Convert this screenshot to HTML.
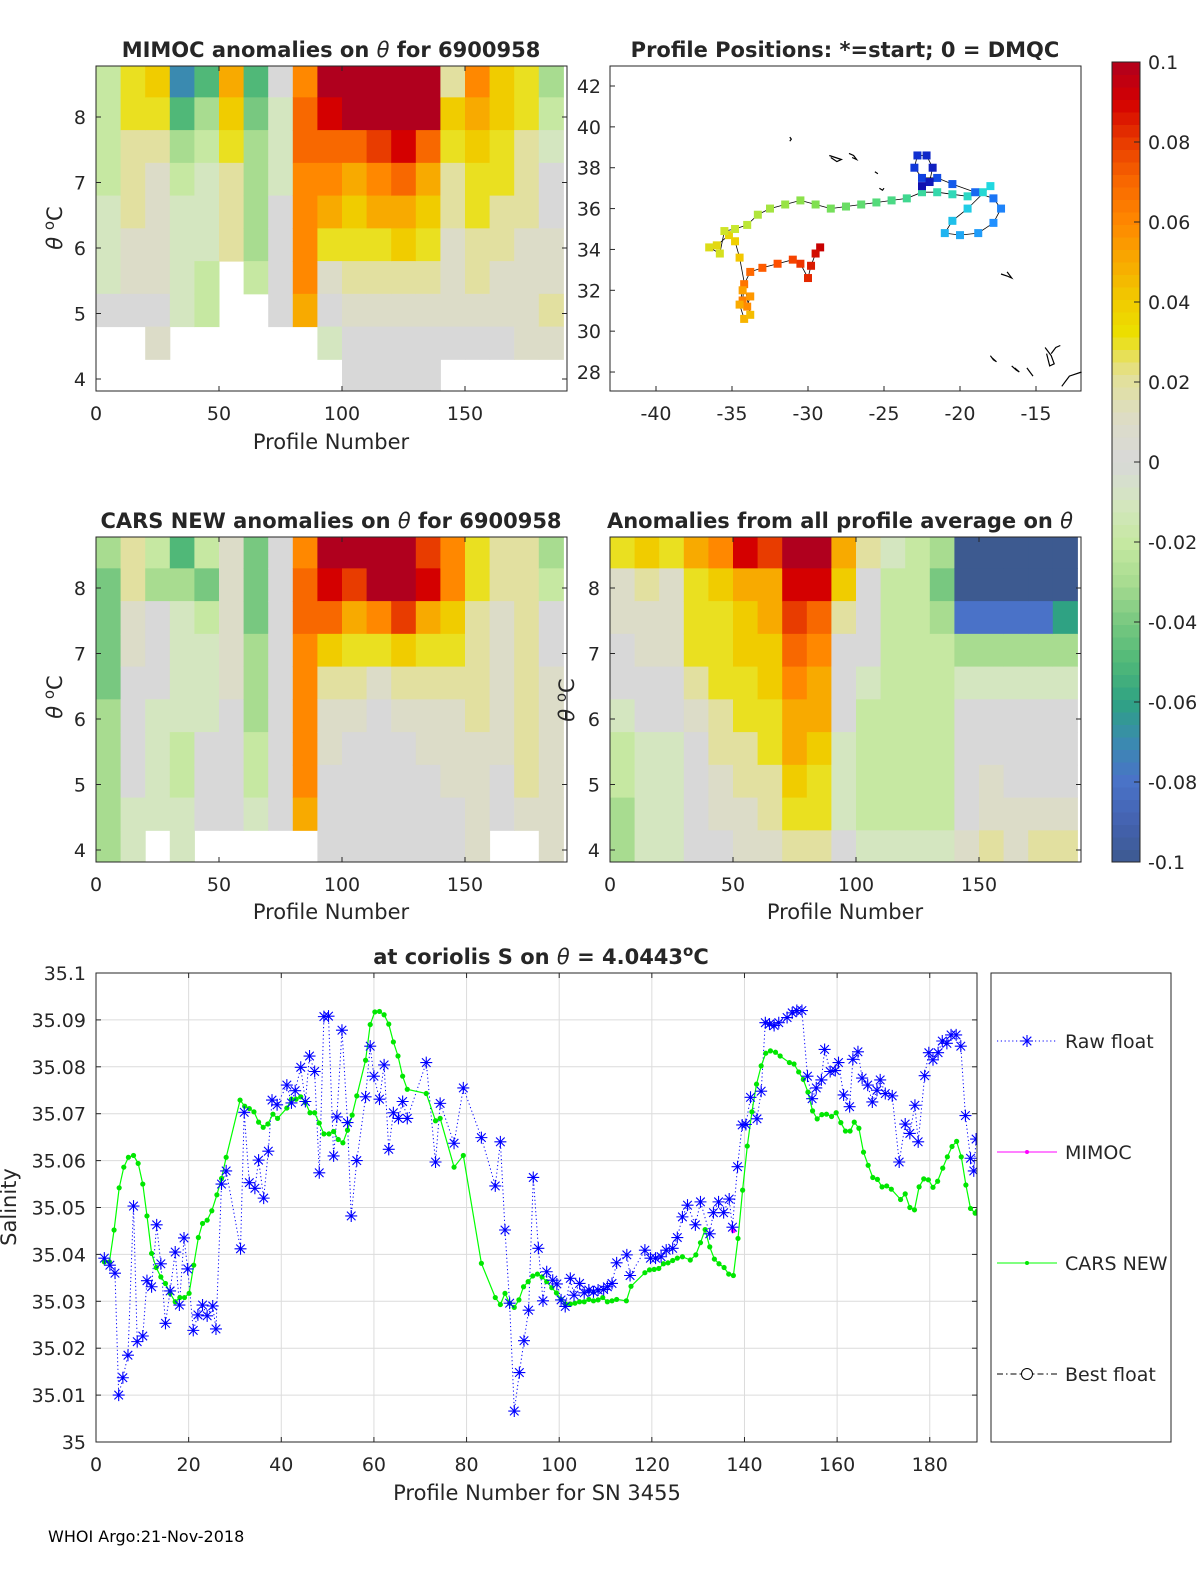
<!DOCTYPE html>
<html><head><meta charset="utf-8"><style>
html,body{margin:0;padding:0;background:#fff;overflow:hidden;width:1200px;height:1575px}
svg{display:block}
svg text{font-family:"DejaVu Sans","Liberation Sans",sans-serif;fill:#262626}
</style></head><body>
<svg id="fig" xmlns="http://www.w3.org/2000/svg" width="1200" height="1575" viewBox="0 0 1200 1575">
<rect width="1200" height="1575" fill="#fff"/>
<defs>
<clipPath id="c1"><rect x="96" y="66" width="471" height="325"/></clipPath>
<clipPath id="c3"><rect x="96" y="537" width="471" height="325"/></clipPath>
<clipPath id="c4"><rect x="610" y="537" width="471" height="325"/></clipPath>
<clipPath id="cb"><rect x="96" y="973" width="881" height="469"/></clipPath>
</defs>
<g id="layer"></g>
<text x="331" y="57" text-anchor="middle" font-size="21" font-weight="bold">MIMOC anomalies on <tspan font-style="italic" font-weight="normal">θ</tspan>  for 6900958</text>
<text x="845" y="57" text-anchor="middle" font-size="21" font-weight="bold">Profile Positions: *=start; 0 = DMQC</text>
<text x="331" y="528" text-anchor="middle" font-size="21" font-weight="bold">CARS NEW anomalies on <tspan font-style="italic" font-weight="normal">θ</tspan> for 6900958</text>
<text x="840" y="528" text-anchor="middle" font-size="21" font-weight="bold">Anomalies from all profile average on <tspan font-style="italic" font-weight="normal">θ</tspan></text>
<text transform="translate(62,228) rotate(-90)" text-anchor="middle" font-size="21"><tspan font-style="italic">θ</tspan> <tspan dy="-8" font-size="15">o</tspan><tspan dy="8">C</tspan></text>
<text transform="translate(62,697) rotate(-90)" text-anchor="middle" font-size="21"><tspan font-style="italic">θ</tspan> <tspan dy="-8" font-size="15">o</tspan><tspan dy="8">C</tspan></text>
<text transform="translate(574,700) rotate(-90)" text-anchor="middle" font-size="21"><tspan font-style="italic">θ</tspan> <tspan dy="-8" font-size="15">o</tspan><tspan dy="8">C</tspan></text>
<text x="331" y="449" text-anchor="middle" font-size="21">Profile Number</text>
<text x="331" y="919" text-anchor="middle" font-size="21">Profile Number</text>
<text x="845" y="919" text-anchor="middle" font-size="21">Profile Number</text>
<text x="541" y="964" text-anchor="middle" font-size="21" font-weight="bold">at coriolis S on <tspan font-style="italic" font-weight="normal">θ</tspan> = 4.0443<tspan dy="-8" font-size="15">o</tspan><tspan dy="8">C</tspan></text>
<text transform="translate(16,1207) rotate(-90)" text-anchor="middle" font-size="21">Salinity</text>
<text x="537" y="1500" text-anchor="middle" font-size="21">Profile Number for SN 3455</text>
<text x="48" y="1542" font-size="16" style="fill:#000">WHOI Argo:21-Nov-2018</text>
</svg>
<script>
// ---------- Colormap ----------
const cmapVals=[-10,-9,-8,-7,-6,-5,-4,-3,-2,-1,0,1,2,2.5,3.2,4,5,6,7,8,9,10];
const cmapCols=["#3d5a90","#4462b0","#4a72c8","#3a8ab0","#2fa283","#50b878","#78c880","#a8dc90","#c6e8a2","#d4e6c0","#d8d8d8","#dcdcc8","#e2e0a0","#e6e070","#ece000","#f0cc00","#f8aa00","#ff8800","#f86800","#e83c00","#d40000","#b0001e"];
const trackCols=["#c80000","#ff5000","#ff9800","#f0d000","#c8e830","#80e050","#40d890","#20d8e0","#2090ff","#1040e0","#1010b0"];
// ---------- Heatmap data (anomaly x100), columns = 10-profile bins, rows = 0.5C bins from 8.8 down ----------
const colStarts=[0,10,20,30,40,50,60,70,80,90,100,110,120,130,140,150,160,170,180];
const rowTops=[8.8,8.3,7.8,7.3,6.8,6.3,5.8,5.3,4.8,4.3];
const mimocAnom=[
[-2,-2,-2,-2,-1,-1,-1,0,null,null],
[3,3,2,2,2,1,1,0,null,null],
[4,3,2,1,1,1,1,0,1,null],
[-7,-5,-3,-2,-1,-1,-1,-1,null,null],
[-5,-3,-2,-1,-1,-1,-2,-2,null,null],
[5,4,3,2,2,2,null,null,null,null],
[-5,-4,-3,-3,-3,-3,-2,null,null,null],
[0,-1,-1,-1,0,0,0,0,null,null],
[6,7,7,6,6,6,6,5,null,null],
[10,9,7,6,5,3,1,0,-1,null],
[10,10,7,5,4,3,2,1,0,0],
[10,10,8,6,5,3,2,1,0,0],
[10,10,9,7,5,4,2,1,0,0],
[10,10,7,5,4,3,2,1,0,0],
[2,4,3,2,2,1,1,1,0,null],
[6,5,4,3,3,2,2,1,0,null],
[4,4,3,3,2,2,1,1,0,null],
[3,3,2,2,2,1,1,1,1,null],
[-3,-2,-1,0,0,1,1,2,1,null]];
const carsAnom=[
[-3,-4,-4,-4,-4,-3,-3,-3,-3,-3],
[2,2,1,1,0,0,0,0,-1,-1],
[-2,-3,0,0,0,-1,-1,-1,-1,null],
[-5,-3,-1,-1,-1,-1,-2,-2,-1,-1],
[-2,-4,-2,-1,-1,-1,0,0,0,null],
[1,1,1,1,1,0,0,0,0,null],
[-4,-4,-4,-3,-3,-3,-2,-2,-1,null],
[0,0,0,0,0,0,0,0,0,null],
[6,7,7,6,6,6,6,6,5,null],
[10,9,7,4,2,1,1,0,0,0],
[10,8,5,3,2,1,0,0,0,0],
[10,10,6,3,1,0,0,0,0,0],
[10,10,8,4,2,1,0,0,0,0],
[8,9,5,3,2,1,1,0,0,0],
[6,6,4,3,2,1,1,1,0,0],
[3,3,2,2,2,2,1,1,1,1],
[2,2,1,1,1,1,1,0,0,null],
[2,2,2,2,2,2,2,2,1,null],
[-3,-2,0,0,1,1,1,1,1,1]];
const avgAnom=[
[3,1,1,0,0,-1,-2,-2,-3,-3],
[4,2,1,1,0,0,-1,-1,-1,-1],
[3,1,1,1,0,0,-1,-1,-1,-1],
[5,3,3,3,2,1,0,0,0,0],
[6,4,3,3,3,2,2,1,1,0],
[9,5,4,4,3,3,2,2,1,1],
[8,5,5,4,4,3,3,2,2,1],
[10,9,8,7,6,5,5,4,3,2],
[10,9,7,6,5,5,4,3,3,2],
[5,4,2,0,0,0,-1,-1,-1,0],
[2,0,0,0,-1,-2,-2,-2,-2,-1],
[-1,-2,-2,-2,-2,-2,-2,-2,-2,-1],
[-2,-2,-2,-2,-2,-2,-2,-2,-2,-1],
[-3,-4,-3,-2,-2,-2,-2,-2,-2,-1],
[-10,-10,-8,-3,-1,0,0,0,0,1],
[-10,-10,-8,-3,-1,0,0,1,1,2],
[-10,-10,-8,-3,-1,0,0,0,1,1],
[-10,-10,-8,-3,-1,0,0,0,1,2],
[-10,-10,-6,-3,-1,0,0,0,1,2]];
const profTicks=[0,50,100,150];
const thetaTicks=[4,5,6,7,8];
// ---------- Map data ----------
const trackLon=[-29.2,-29.5,-29.8,-30,-30.5,-31,-32,-33,-33.8,-34.2,-34.3,-34,-33.8,-34.3,-34.5,-34.2,-33.8,-34.5,-34.8,-35.2,-36,-36.5,-35.8,-35.5,-34.8,-34,-33.3,-32.5,-31.5,-30.5,-29.5,-28.5,-27.5,-26.5,-25.5,-24.5,-23.5,-22.5,-21.5,-20.5,-19.5,-18.5,-18,-19.5,-20.5,-21,-20,-18.8,-17.8,-17.3,-17.8,-19,-20.5,-21.5,-22.5,-23,-22.8,-22.2,-21.8,-22,-22.5];
const trackLat=[34.1,33.8,33.2,32.6,33.3,33.5,33.3,33.1,32.9,32.3,31.5,31.2,31.7,32,31.3,30.6,30.8,33.6,34.4,34.7,34.2,34.1,33.8,34.9,35,35.2,35.7,36,36.2,36.4,36.2,36,36.1,36.2,36.3,36.4,36.5,36.8,36.8,36.7,36.6,36.8,37.1,36,35.4,34.8,34.7,34.8,35.3,36,36.5,36.8,37.2,37.5,37.5,38,38.6,38.6,38,37.3,37.1];
const islandLon=[[-31.2,-31.1,-31.2],[-28.6,-28.2,-27.8,-28.1,-28.5],[-27.3,-27,-26.8,-27.1],[-25.6,-25.4],[-17.3,-16.9,-16.6,-16.9],[-18.0,-17.8,-17.6,-17.9],[-16.6,-16.3,-16.1,-16.4],[-15.6,-15.4,-15.2,-15.5],[-14.4,-14.0,-13.8,-14.1,-14.3],[-14.0,-13.7,-13.4],[-13.3,-12.8,-12.0],[-25.3,-25.1,-25.0]];
const islandLat=[[39.5,39.4,39.3],[38.6,38.5,38.4,38.3,38.5],[38.7,38.6,38.4,38.5],[37.8,37.7],[32.8,32.7,32.6,32.9],[28.8,28.6,28.5,28.7],[28.3,28.1,28.0,28.2],[28.2,28.0,27.8,28.1],[29.2,28.8,28.4,28.3,28.9],[28.9,29.2,29.3],[27.3,27.8,28.0],[37.0,36.9,37.0]];
const lonTicks=[-40,-35,-30,-25,-20,-15];
const latTicks=[28,30,32,34,36,38,40,42];
const cbTicks=[-0.1,-0.08,-0.06,-0.04,-0.02,0,0.02,0.04,0.06,0.08,0.1];
const cbLabels=["-0.1","-0.08","-0.06","-0.04","-0.02","0","0.02","0.04","0.06","0.08","0.1"];
// ---------- Salinity data ----------
const rawP=[1.8,3.0,4.1,4.9,5.8,6.9,8.1,8.9,10.1,11,12,13.1,14,15,16,17.1,18,19,19.8,21,22,23,24,25.2,25.9,27.1,28.1,31.2,32,33.1,34.3,35.1,36.2,37.2,38,39.1,41.2,42.2,43,44.2,45.2,46.1,47.2,48.2,49.2,50.2,51.3,52,53.1,54.3,55.1,56.3,58.2,59.2,60,61.2,62.2,63.2,64.2,65.3,66.2,67.2,71.3,73.3,74.3,77.3,79.3,83.2,86.2,87.3,88.3,89.3,90.3,91.4,92.4,93.4,94.4,95.5,96.5,97.3,98.6,99.5,100.4,101.3,102.4,103.2,104.4,105.4,106.4,107.4,108.4,109.6,110.4,111.4,112.4,114.6,115.3,118.5,119.7,120.8,122,123.1,124.5,125.5,126.6,127.7,129.4,130.5,132.5,133.3,134.4,135.5,136.7,137.4,138.5,139.5,140.3,141.3,142.7,143.6,144.5,145.4,146.4,147.4,149.2,150.3,151.3,152.4,153.6,154.6,155.5,156.6,157.3,158.5,159.6,160.3,161.4,162.7,163.4,164.5,165.4,166.6,167.6,168.6,169.3,170.4,171.9,173.4,174.7,175.7,176.8,177.5,178.9,179.8,180.7,181.8,182.7,183.7,184.6,185.7,186.7,187.7,188.8,189.5,190];
const rawS=[35.0392,35.0377,35.036,35.010,35.0137,35.0185,35.0503,35.0214,35.0226,35.0344,35.0331,35.0463,35.038,35.0253,35.0322,35.0405,35.0292,35.0435,35.0369,35.0238,35.0271,35.0292,35.0269,35.029,35.0241,35.055,35.0578,35.0412,35.0703,35.0553,35.0541,35.0601,35.052,35.062,35.0729,35.0719,35.0761,35.0723,35.0749,35.0799,35.0726,35.0823,35.079,35.0574,35.0907,35.0908,35.061,35.0693,35.0878,35.0681,35.0482,35.06,35.0736,35.0844,35.078,35.0731,35.0804,35.0624,35.0702,35.069,35.0726,35.069,35.0809,35.0597,35.0722,35.0637,35.0755,35.0649,35.0546,35.064,35.0452,35.0296,35.0066,35.0148,35.0216,35.0281,35.0564,35.0413,35.0301,35.0363,35.0345,35.0337,35.0303,35.0289,35.0349,35.0313,35.0338,35.0318,35.0324,35.032,35.0324,35.0325,35.0331,35.0338,35.0382,35.0399,35.0355,35.0409,35.0392,35.0392,35.0395,35.0409,35.0413,35.0436,35.048,35.0505,35.0463,35.0512,35.0444,35.0489,35.0512,35.0489,35.0518,35.0458,35.0587,35.0676,35.0677,35.0735,35.0689,35.0748,35.0894,35.0891,35.0888,35.0894,35.0905,35.0915,35.092,35.092,35.078,35.0732,35.0755,35.0772,35.0837,35.079,35.0792,35.0809,35.074,35.0715,35.0816,35.0832,35.0776,35.0761,35.0725,35.075,35.0772,35.0743,35.0738,35.0597,35.0678,35.0658,35.0718,35.064,35.0781,35.083,35.0815,35.083,35.0855,35.085,35.0868,35.0868,35.0844,35.0696,35.0605,35.0578,35.0646];
const carsP=[1.8,2.9,3.9,5,6,7,8.1,9.1,10.1,11,12,13,14,15,16,17.1,18.1,19.1,20.1,21.1,22.1,23,24,25,26.1,27.1,28.1,31.1,32.1,33.1,34.1,35.1,36.1,37.1,38.2,39.2,41.2,42.2,43.2,44.2,45.2,46.2,47.2,48.2,49.2,50.3,51.3,52.3,53.3,54.3,55.3,56.3,58.2,59.2,60.2,61.2,62.2,63.2,64.2,65.2,66.2,67.2,71.3,73.3,74.3,77.3,79.3,83.2,86.2,87.3,88.3,89.3,90.3,91.3,92.3,93.3,94.3,95.3,96.3,97.3,98.4,99.4,100.4,101.4,102.4,103.4,104.4,105.4,106.4,107.4,108.4,109.4,110.4,111.4,112.4,114.5,115.5,118.5,119.5,120.5,121.5,122.5,123.5,124.5,125.5,126.6,128.3,129.5,130.5,131.5,132.5,133.5,134.5,135.6,136.6,137.6,138.6,139.6,140.6,141.6,142.6,143.6,144.6,145.6,146.7,147.7,149.7,150.7,151.7,152.7,153.7,154.7,155.7,156.7,157.7,158.8,159.8,160.8,161.8,162.8,163.7,164.7,165.7,166.7,167.7,168.7,169.7,170.7,171.7,173.7,174.7,175.7,176.7,177.7,178.7,179.7,180.7,181.7,182.8,183.8,184.8,185.8,186.8,187.8,188.8,189.8,190.3];
const carsS=[35.0384,35.0384,35.0452,35.0542,35.0586,35.0607,35.0611,35.0594,35.055,35.0482,35.0402,35.0372,35.0352,35.0338,35.0317,35.0299,35.0308,35.0308,35.0317,35.0377,35.0436,35.0466,35.0473,35.0493,35.0527,35.0562,35.0607,35.0729,35.0716,35.0711,35.0704,35.0682,35.0671,35.0678,35.0699,35.069,35.0712,35.0731,35.0731,35.0736,35.0724,35.0702,35.0702,35.068,35.0657,35.0657,35.0662,35.0645,35.0638,35.0665,35.0697,35.0738,35.0814,35.089,35.0917,35.0918,35.0911,35.0891,35.0853,35.0823,35.078,35.0752,35.0743,35.0685,35.069,35.0586,35.0611,35.0381,35.0308,35.0293,35.0317,35.0296,35.0287,35.0303,35.0331,35.0342,35.0354,35.0358,35.0352,35.0342,35.0329,35.0318,35.0304,35.0294,35.0294,35.0296,35.0299,35.0299,35.0304,35.0301,35.0303,35.0308,35.0299,35.0301,35.0304,35.0301,35.0332,35.0361,35.0367,35.0368,35.037,35.038,35.0382,35.0387,35.0392,35.0395,35.0388,35.0399,35.0425,35.0453,35.0416,35.039,35.038,35.0372,35.0358,35.0355,35.0434,35.0537,35.0631,35.0704,35.0763,35.0802,35.0829,35.0834,35.0831,35.0823,35.0809,35.0806,35.0789,35.0773,35.0746,35.0706,35.0689,35.0698,35.0699,35.0694,35.0702,35.0681,35.0663,35.0663,35.0682,35.0669,35.0618,35.059,35.0564,35.056,35.0544,35.0546,35.0539,35.0517,35.0529,35.05,35.0495,35.0544,35.0561,35.0559,35.0543,35.0556,35.0584,35.0608,35.063,35.0641,35.0608,35.0548,35.0498,35.0488,35.0493];
const mimocP=[137.6];
const mimocS=[35.0451];
const salXTicks=[0,20,40,60,80,100,120,140,160,180];
const salYTicks=[35,35.01,35.02,35.03,35.04,35.05,35.06,35.07,35.08,35.09,35.1];
const salYLabels=["35","35.01","35.02","35.03","35.04","35.05","35.06","35.07","35.08","35.09","35.1"];

// ---------- helpers ----------
const NS="http://www.w3.org/2000/svg";
const layer=document.getElementById('layer');
function mk(tag,attrs,parent){const e=document.createElementNS(NS,tag);for(const k in attrs)e.setAttribute(k,attrs[k]);(parent||layer).appendChild(e);return e;}
function hex(h){return [parseInt(h.slice(1,3),16),parseInt(h.slice(3,5),16),parseInt(h.slice(5,7),16)];}
function lerpCol(a,b,t){a=hex(a);b=hex(b);return 'rgb('+a.map((x,j)=>Math.round(x+(b[j]-x)*t)).join(',')+')';}
function cmap(v){
  if(v<=cmapVals[0])return cmapCols[0];
  for(let i=1;i<cmapVals.length;i++){if(v<=cmapVals[i]){const t=(v-cmapVals[i-1])/(cmapVals[i]-cmapVals[i-1]);return lerpCol(cmapCols[i-1],cmapCols[i],t);}}
  return cmapCols[cmapCols.length-1];
}
function tmap(f){const s=f*(trackCols.length-1);const i=Math.min(Math.floor(s),trackCols.length-2);return lerpCol(trackCols[i],trackCols[i+1],s-i);}
function txt(s,x,y,attrs,parent){const e=mk('text',Object.assign({x:x,y:y,'font-size':19},attrs||{}),parent);e.textContent=s;return e;}

// ---------- heatmap panels ----------
function heatPanel(name,x0,y0,data,clip){
  const W=471,H=325;
  const xs=p=>x0+p*2.46;
  const ys=t=>y0+51+(8-t)*65.5;
  const g=mk('g',{'clip-path':'url(#'+clip+')'});
  
  
  data.forEach((col,ci)=>{col.forEach((v,ri)=>{if(v===null)return;
    const r=mk('rect',{x:xs(colStarts[ci]),y:ys(rowTops[ri]),width:xs(colStarts[ci]+10)-xs(colStarts[ci])+0.5,height:ys(rowTops[ri]-0.5)-ys(rowTops[ri])+0.5,fill:cmap(v)},g);
    
    
  });});
  const ax=mk('rect',{x:x0,y:y0,width:W,height:H,fill:'none',stroke:'#262626','stroke-width':1});
  
  
  profTicks.forEach(p=>{const x=xs(p);mk('line',{x1:x,x2:x,y1:y0+H,y2:y0+H-5,stroke:'#262626'});mk('line',{x1:x,x2:x,y1:y0,y2:y0+5,stroke:'#262626'});
    const t=txt(String(p),x,y0+H+29,{'text-anchor':'middle'});});
  thetaTicks.forEach(v=>{const y=ys(v);mk('line',{x1:x0,x2:x0+5,y1:y,y2:y,stroke:'#262626'});mk('line',{x1:x0+W,x2:x0+W-5,y1:y,y2:y,stroke:'#262626'});
    const t=txt(String(v),x0-10,y+7,{'text-anchor':'end'});});
}
heatPanel('mimoc',96,66,mimocAnom,'c1');
heatPanel('cars',96,537,carsAnom,'c3');
heatPanel('average',610,537,avgAnom,'c4');

// ---------- map ----------
(function(){
  const mx=lon=>656+(lon+40)*15.2;
  const my=lat=>86+(42-lat)*20.43;
  const box=mk('rect',{x:610,y:66,width:471,height:325,fill:'none',stroke:'#262626'});
  
  
  islandLon.forEach((arr,i)=>{const d=arr.map((lo,j)=>(j?'L':'M')+mx(lo).toFixed(1)+' '+my(islandLat[i][j]).toFixed(1)).join(' ');
    const p=mk('path',{d:d,fill:'none',stroke:'#000','stroke-width':1.2});
    
    });
  const d=trackLon.map((lo,j)=>(j?'L':'M')+mx(lo).toFixed(1)+' '+my(trackLat[j]).toFixed(1)).join(' ');
  const tl=mk('path',{d:d,fill:'none',stroke:'#000','stroke-width':0.8});
  
  
  const n=trackLon.length;
  trackLon.forEach((lo,j)=>{
    const r=mk('rect',{x:mx(lo)-4,y:my(trackLat[j])-4,width:8,height:8,fill:tmap(j/(n-1))});
    
    });
  lonTicks.forEach(v=>{const x=mx(v);mk('line',{x1:x,x2:x,y1:391,y2:386,stroke:'#262626'});
    const t=txt(String(v),x,420,{'text-anchor':'middle'});});
  latTicks.forEach(v=>{const y=my(v);mk('line',{x1:610,x2:615,y1:y,y2:y,stroke:'#262626'});
    const t=txt(String(v),601,y+7,{'text-anchor':'end'});});
})();

// ---------- colorbar ----------
(function(){
  const cy=v=>862-(v+0.1)/0.2*800;
  const g=mk('g',{});
  
  
  for(let i=0;i<64;i++){const v0=-10+i*20/64;
    mk('rect',{x:1112,y:cy((v0+20/64)/100),width:28,height:800/64+0.5,fill:cmap(v0+10/64)},g);}
  mk('rect',{x:1112,y:62,width:28,height:800,fill:'none',stroke:'#262626'},g);
  cbTicks.forEach((v,i)=>{const y=cy(v);mk('line',{x1:1140,x2:1134,y1:y,y2:y,stroke:'#262626'},g);
    const t=txt(cbLabels[i],1148,y+7,{},g);});
})();

// ---------- salinity chart ----------
(function(){
  const bx=p=>96+p*4.632;
  const by=s=>973+(35.1-s)*4690;
  const bg=mk('rect',{x:96,y:973,width:881,height:469,fill:'#fff'});
  
  
  salXTicks.forEach(p=>{const x=bx(p);mk('line',{x1:x,x2:x,y1:973,y2:1442,stroke:'#dcdcdc'});
    mk('line',{x1:x,x2:x,y1:1442,y2:1437,stroke:'#262626'});mk('line',{x1:x,x2:x,y1:973,y2:978,stroke:'#262626'});
    const t=txt(String(p),x,1471,{'text-anchor':'middle'});});
  salYTicks.forEach((s,i)=>{const y=by(s);mk('line',{x1:96,x2:977,y1:y,y2:y,stroke:'#dcdcdc'});
    mk('line',{x1:96,x2:101,y1:y,y2:y,stroke:'#262626'});mk('line',{x1:977,x2:972,y1:y,y2:y,stroke:'#262626'});
    const t=txt(salYLabels[i],86,y+7,{'text-anchor':'end'});});
  const g=mk('g',{'clip-path':'url(#cb)'});
  const rd=rawP.map((p,j)=>(j?'L':'M')+bx(p).toFixed(1)+' '+by(rawS[j]).toFixed(1)).join(' ');
  const rl=mk('path',{d:rd,fill:'none',stroke:'#0000ff','stroke-width':1,'stroke-dasharray':'1.2,2.6'},g);
  
  
  const cd=carsP.map((p,j)=>(j?'L':'M')+bx(p).toFixed(1)+' '+by(carsS[j]).toFixed(1)).join(' ');
  const cl=mk('path',{d:cd,fill:'none',stroke:'#00ff00','stroke-width':1.2},g);
  
  
  carsP.forEach((p,j)=>{const c=mk('circle',{cx:bx(p),cy:by(carsS[j]),r:2.6,fill:'#00e600'},g);
    
    });
  mimocP.forEach((p,j)=>{const c=mk('circle',{cx:bx(p),cy:by(mimocS[j]),r:2.6,fill:'#ff00ff'},g);
    
    });
  rawP.forEach((p,j)=>{const x=bx(p),y=by(rawS[j]),r=6;
    const s=mk('path',{d:`M${x-r} ${y}H${x+r}M${x} ${y-r}V${y+r}M${x-4.3} ${y-4.3}L${x+4.3} ${y+4.3}M${x-4.3} ${y+4.3}L${x+4.3} ${y-4.3}`,stroke:'#0000ff','stroke-width':1.1,fill:'none'},g);
    
    });
  const ab=mk('rect',{x:96,y:973,width:881,height:469,fill:'none',stroke:'#262626'});
  
  
  // legend
  const lg=mk('g',{});
  
  
  mk('rect',{x:991,y:973,width:180,height:469,fill:'#fff',stroke:'#262626'},lg);
  const entries=[['Raw float',1041],['MIMOC',1152],['CARS NEW',1263],['Best float',1374]];
  entries.forEach((e,i)=>{const y=e[1];const eg=mk('g',{},lg);
    
    
    if(i===0){mk('line',{x1:997,x2:1057,y1:y,y2:y,stroke:'#0000ff','stroke-dasharray':'1.2,2.6'},eg);
      const x=1027,r=6;mk('path',{d:`M${x-r} ${y}H${x+r}M${x} ${y-r}V${y+r}M${x-4.3} ${y-4.3}L${x+4.3} ${y+4.3}M${x-4.3} ${y+4.3}L${x+4.3} ${y-4.3}`,stroke:'#0000ff','stroke-width':1.1},eg);}
    if(i===1){mk('line',{x1:997,x2:1057,y1:y,y2:y,stroke:'#ff00ff'},eg);mk('circle',{cx:1027,cy:y,r:2,fill:'#ff00ff'},eg);}
    if(i===2){mk('line',{x1:997,x2:1057,y1:y,y2:y,stroke:'#00ff00'},eg);mk('circle',{cx:1027,cy:y,r:2,fill:'#00e600'},eg);}
    if(i===3){mk('line',{x1:997,x2:1057,y1:y,y2:y,stroke:'#000','stroke-dasharray':'6,3,1.5,3'},eg);mk('circle',{cx:1027,cy:y,r:5.5,fill:'#fff',stroke:'#000'},eg);}
    txt(e[0],1065,y+7,{},eg);});
})();
</script>
</body></html>
